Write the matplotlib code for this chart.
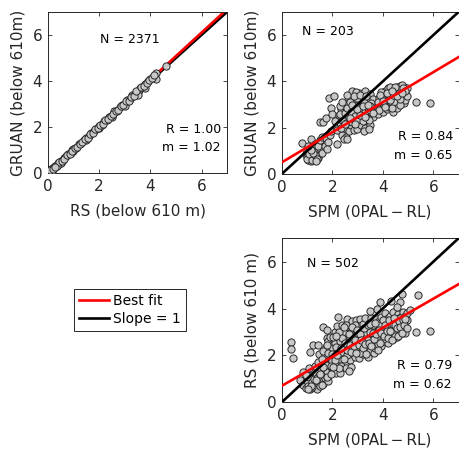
"""
Scatter comparison of boundary layer heights: GRUAN / RS / SPM
"""

import numpy as np
import matplotlib
matplotlib.use('Agg')
import matplotlib.pyplot as plt
from matplotlib.lines import Line2D

plt.rcParams['font.family'] = ['DejaVu Sans']

# ---- data ----
# panel 1: RS vs GRUAN
rs_x = [0.03, 0.05, 0.08, 0.1, 0.12, 0.15, 0.18, 0.2, 0.25, 0.3, 0.35, 0.4, 0.45, 0.5,
        0.6, 0.65, 0.7, 0.8, 0.9, 0.95, 1.0, 1.1, 1.2, 1.3, 1.4, 1.5, 1.6, 1.7, 1.8,
        1.9, 2.0, 2.1, 2.2, 2.3, 2.4, 2.5, 2.6, 2.7, 2.8, 2.9, 3.0, 3.1, 3.2, 3.3,
        3.4, 3.5, 3.55, 3.6, 3.7, 3.8, 3.9, 4.0, 4.1, 4.2, 4.6,
        1.0, 2.0, 3.0, 3.5, 2.5, 1.5, 0.5, 3.8, 4.2, 0.02, 0.06, 0.12]
gruan_y = [0.05, 0.1, 0.06, 0.15, 0.1, 0.18, 0.2, 0.25, 0.22, 0.33, 0.38, 0.45, 0.42, 0.52,
           0.58, 0.68, 0.74, 0.82, 0.88, 0.99, 1.04, 1.1, 1.25, 1.3, 1.44, 1.52, 1.6, 1.76, 1.82,
           1.93, 2.05, 2.1, 2.26, 2.32, 2.45, 2.5, 2.68, 2.72, 2.86, 2.95, 3.02, 3.18, 3.22, 3.4,
           3.44, 3.52, 3.62, 3.7, 3.75, 3.85, 4.0, 4.08, 4.15, 4.35, 4.65,
           0.95, 1.95, 2.9, 3.4, 2.42, 1.45, 0.45, 3.7, 4.1, 0.12, 0.02, 0.18]
rs_x_more = [0.15, 0.25, 0.35, 0.45, 0.55, 0.65, 0.75, 0.85, 0.95, 1.05, 1.15, 1.25, 1.35,
             1.45, 1.55, 1.65, 1.75, 1.85, 1.95, 2.05, 2.15, 2.25, 2.35, 2.45, 2.55, 2.65,
             2.75, 2.85, 2.95, 3.05, 3.15, 3.25, 3.35, 3.45, 3.65, 3.75, 3.85, 3.95, 4.05,
             4.15, 0.08, 0.2, 0.3]
gruan_y_more = [0.12, 0.28, 0.33, 0.48, 0.55, 0.63, 0.79, 0.84, 0.97, 1.08, 1.13, 1.29, 1.36,
                1.5, 1.55, 1.7, 1.74, 1.9, 1.95, 2.1, 2.15, 2.3, 2.35, 2.5, 2.55, 2.72,
                2.75, 2.92, 2.95, 3.12, 3.15, 3.32, 3.35, 3.55, 3.72, 3.8, 3.92, 4.02, 4.12,
                4.25, 0.15, 0.18, 0.26]

# panel 2: SPM vs GRUAN
spm_g = [0.82, 0.95, 1.0, 1.05, 1.1, 1.12, 1.15, 1.2, 1.22, 1.25, 1.3, 1.32, 1.35, 1.38, 1.4,
         1.45, 1.48, 1.5, 1.55, 1.6, 1.15, 1.3, 1.42, 1.51, 1.0, 1.6, 1.7, 1.75, 1.84, 1.9,
         1.95, 2.17, 1.8,
         1.51, 1.65, 1.76, 1.88, 2.07, 1.97, 2.0, 2.1, 2.15,
         2.2, 2.3, 2.35, 2.4, 2.45, 2.5, 2.5, 2.55, 2.6, 2.6, 2.65, 2.7, 2.7, 2.75, 2.8, 2.8,
         2.85, 2.9, 2.9, 2.95, 3.0, 3.0, 3.05, 3.1, 3.1, 3.15, 3.2, 3.2, 3.25, 3.3, 3.3, 3.35,
         3.4, 3.4, 3.45, 3.5, 3.5, 3.55, 3.6, 3.6, 2.45, 2.55, 2.3, 2.25, 2.65, 2.95, 3.05,
         3.15, 3.25, 2.75, 2.4, 2.85, 3.35, 3.45, 3.0, 2.6,
         3.7, 3.75, 3.8, 3.85, 3.9, 3.95, 4.0, 4.0, 4.05, 4.1, 4.15, 4.2, 4.2, 4.25, 4.3, 4.35,
         4.4, 4.4, 4.45, 4.5, 4.5, 4.55, 4.6, 4.6, 4.65, 4.7, 4.7, 4.75, 4.8, 4.8, 4.85, 4.85,
         4.9, 4.9, 4.75, 4.65, 4.3, 3.95, 4.1, 4.45, 4.55, 4.25, 3.85, 4.05, 4.35, 4.7, 4.85,
         4.95, 4.95, 5.33, 5.86]
gruan_s = [1.35, 0.85, 0.75, 0.6, 0.95, 0.7, 0.55, 0.8, 1.0, 0.65, 0.9, 0.6, 1.1, 0.75, 0.95,
           0.7, 1.25, 0.85, 1.05, 0.9, 1.5, 1.3, 1.22, 1.49, 1.0, 1.6, 1.2, 1.55, 1.39, 1.7,
           1.85, 1.29, 1.1,
           2.26, 2.25, 2.4, 3.29, 3.38, 2.87, 2.6, 2.3, 2.05,
           1.9, 2.2, 2.8, 1.7, 2.5, 2.95, 2.0, 1.6, 2.3, 3.0, 1.85, 2.6, 3.4, 2.1, 3.6, 2.45,
           1.9, 2.8, 3.2, 2.2, 1.95, 2.6, 3.5, 2.35, 3.0, 2.1, 2.75, 3.4, 2.5, 2.0, 3.6, 2.9,
           2.3, 3.2, 2.65, 2.1, 3.45, 2.9, 2.45, 3.25, 1.5, 2.7, 2.95, 2.55, 3.25, 3.55, 2.45,
           3.25, 1.85, 2.95, 2.35, 2.65, 2.45, 1.95, 3.3, 1.5,
           2.7, 3.0, 2.6, 3.3, 2.85, 3.1, 2.7, 3.45, 3.0, 3.6, 2.8, 3.25, 3.7, 2.9, 3.4, 3.05,
           3.65, 2.7, 3.3, 3.5, 2.95, 3.75, 3.2, 3.55, 3.0, 3.4, 3.8, 3.15, 3.6, 3.3, 3.75, 3.05,
           3.5, 3.2, 3.85, 3.65, 3.75, 3.55, 3.35, 3.1, 2.85, 3.5, 2.75, 3.2, 2.85, 3.0, 3.45,
           3.7, 3.35, 3.12, 3.07]
spm_g_more = [2.3, 2.35, 2.4, 2.45, 2.5, 2.55, 2.6, 2.65, 2.7, 2.75, 2.8, 2.85, 2.9, 2.95,
              3.0, 3.05, 3.1, 3.15, 3.2, 3.25, 3.3, 3.35, 3.4, 3.45, 3.5, 3.55, 3.6, 2.5,
              2.7, 2.9, 3.1, 3.3, 3.5, 2.6, 2.8, 3.0, 3.2, 3.4,
              1.0, 1.1, 1.2, 1.3, 1.4, 1.25, 1.15, 1.35, 1.05,
              3.8, 3.9, 4.0, 4.1, 4.2, 4.3, 4.4, 4.5, 4.6, 4.7, 4.8, 4.9, 4.15, 4.35, 4.55, 4.75]
gruan_s_more = [2.6, 2.0, 3.1, 2.3, 2.65, 2.2, 2.85, 2.45, 3.1, 2.7, 2.25, 3.35, 2.5, 2.95,
                2.35, 2.75, 3.4, 2.55, 2.3, 3.1, 2.7, 3.35, 2.85, 2.35, 2.75, 3.05, 2.65, 2.15,
                2.4, 2.15, 2.55, 2.45, 2.95, 3.4, 3.0, 2.8, 2.95, 3.0,
                0.65, 0.85, 0.6, 0.8, 0.65, 0.9, 1.05, 0.55, 1.2,
                3.1, 3.4, 3.15, 2.9, 3.45, 3.2, 3.4, 3.75, 3.45, 3.25, 3.7, 3.6, 3.5, 3.6, 3.35, 3.5]

# panel 3: SPM vs RS
spm_r = [0.83, 0.72, 0.85, 0.95, 1.0, 1.05, 1.1, 1.12, 1.18, 1.2, 1.25, 1.28, 1.32, 1.35, 1.4,
         1.42, 1.48, 1.5, 1.55, 1.58, 1.62, 1.65, 1.7, 1.72, 1.78, 1.8, 1.85, 1.9, 1.97, 2.0,
         1.1, 1.3, 0.95, 1.45,
         0.37, 0.37, 0.46, 1.25, 1.45, 1.12, 1.49, 1.78, 1.62, 1.8, 2.24, 2.14, 2.3, 1.78,
         1.7, 1.75, 1.85, 1.9, 1.95, 2.0, 2.0, 2.05, 2.1, 2.1, 2.15, 2.2, 2.2, 2.25, 2.3, 2.3,
         2.35, 2.4, 2.4, 2.45, 2.5, 2.5, 2.5, 2.55, 2.55, 2.6, 2.6, 2.65, 2.65, 2.7, 2.7, 2.75,
         2.75, 2.8, 2.8, 2.85, 2.85, 2.9, 2.9, 2.95, 2.95, 3.0, 3.0, 3.05, 3.05, 3.1, 3.1, 3.15,
         3.15, 3.2, 3.2, 3.25, 3.25, 3.3, 3.3, 3.35, 3.35, 3.4, 3.4, 3.45, 3.45, 3.5, 3.5, 3.55,
         3.55, 3.6, 3.6, 3.65, 3.65, 3.7, 3.7, 3.75, 3.75, 3.8, 3.8, 3.85, 3.85, 3.9, 3.9, 3.95,
         3.95, 4.0, 4.0, 4.05, 4.05, 4.1, 4.1, 4.15, 4.15, 4.2, 4.2, 4.25, 4.25, 4.3, 4.3, 4.35,
         4.35, 4.4, 4.4, 4.45, 4.45, 4.5, 4.5, 4.55, 4.55, 4.6, 4.6, 4.65, 4.65, 4.7, 4.7, 4.75,
         4.75, 4.8, 4.8, 4.85, 4.85, 4.9, 4.9, 4.95, 4.95,
         2.0, 2.1, 2.25, 2.35, 2.45, 2.6, 2.7, 2.8, 2.9, 3.0, 3.1, 3.2, 3.3, 3.4, 3.5, 3.6,
         3.7, 3.8, 3.9, 4.0, 4.1, 4.2, 4.3, 4.4, 4.5, 4.6, 4.7, 4.8, 2.35, 2.55, 2.75, 2.65,
         3.9, 4.34, 4.7, 4.76, 5.39, 5.07, 3.78, 3.5, 4.55,
         5.33, 5.86, 4.9]
rs_r = [1.31, 0.95, 0.75, 0.6, 0.9, 0.7, 1.1, 0.55, 0.85, 1.4, 0.65, 1.0, 0.75, 1.25, 0.55,
        0.9, 1.15, 0.7, 1.4, 0.95, 1.25, 0.8, 1.55, 1.05, 1.1, 1.35, 0.9, 1.65, 1.52, 1.25,
        1.45, 1.55, 1.15, 1.7,
        2.59, 2.28, 1.88, 2.45, 2.45, 2.16, 2.06, 2.73, 3.23, 3.1, 3.63, 1.24, 1.24, 1.1,
        2.0, 2.35, 2.6, 1.9, 2.2, 2.75, 1.75, 2.45, 3.0, 2.05, 1.6, 2.6, 3.25, 2.2, 1.85, 2.9,
        2.45, 3.3, 2.05, 2.7, 1.65, 3.1, 2.35, 2.85, 1.95, 3.55, 2.55, 2.15, 3.2, 2.75, 1.8, 3.0,
        2.4, 3.45, 2.1, 2.65, 3.15, 2.35, 1.95, 2.9, 3.5, 2.55, 2.2, 3.25, 1.9, 2.75, 3.55, 2.4,
        3.0, 2.05, 3.35, 2.6, 2.9, 2.25, 3.6, 2.75, 3.15, 2.4, 1.95, 3.4, 2.95, 2.6, 2.2, 3.2,
        3.6, 2.8, 2.45, 3.35, 2.1, 3.0, 2.65, 3.55, 2.35, 3.2, 2.85, 2.55, 3.45, 3.05, 2.7, 3.65,
        2.4, 3.25, 2.9, 3.5, 2.6, 3.1, 3.8, 2.8, 3.35, 3.6, 2.55, 3.0, 3.25, 3.7, 2.85, 3.45,
        3.1, 2.7, 3.85, 3.3, 2.95, 3.6, 3.15, 2.8, 3.45, 3.75, 3.0, 3.3, 3.6, 2.9, 3.45, 3.7,
        3.15, 3.35, 3.85, 3.55, 3.05, 3.7, 3.25, 3.5, 3.8,
        2.3, 2.55, 2.75, 2.15, 3.0, 2.0, 2.95, 2.55, 3.3, 2.95, 2.1, 2.85, 3.0, 2.65, 3.0, 3.3,
        2.3, 2.5, 3.3, 2.7, 2.95, 3.15, 3.35, 3.05, 2.85, 3.25, 3.6, 3.1, 1.55, 1.45, 1.5, 1.35,
        4.28, 4.32, 4.27, 4.62, 4.58, 3.94, 3.98, 3.9, 4.05,
        3.02, 3.06, 2.97]
spm_r_more = [1.6, 1.65, 1.75, 1.8, 1.85, 1.9, 1.95, 2.0, 2.05, 2.1, 2.15, 2.2, 2.25, 2.3, 2.35,
              2.4, 2.45, 2.5, 2.55, 2.6, 2.65, 2.7, 2.75, 2.8, 2.85, 2.9, 2.95, 3.0, 3.05, 3.1,
              3.15, 3.2, 3.25, 3.3, 3.35, 3.4, 3.45, 3.5, 3.55, 3.6, 3.65, 3.7, 3.75, 3.8, 3.85,
              3.9, 3.95, 4.0, 4.05, 4.1, 4.15, 4.2, 4.25, 4.3, 4.35, 4.4, 4.45, 4.5, 4.55, 4.6,
              4.65, 4.7, 4.75, 4.8, 4.85, 4.9, 4.95, 2.15, 2.45, 2.25, 2.05, 1.95, 1.65, 1.4,
              1.2, 1.35, 1.5, 1.15, 1.05, 1.6]
rs_r_more = [1.85, 2.2, 1.6, 2.45, 2.1, 2.8, 1.55, 2.05, 2.8, 1.8, 2.35, 2.0, 3.0, 2.6, 2.3,
             2.75, 1.85, 2.55, 3.3, 2.25, 2.9, 2.45, 2.15, 3.2, 2.4, 2.65, 2.1, 3.1, 2.45, 2.9,
             2.65, 2.3, 3.15, 2.5, 2.05, 3.3, 2.55, 3.35, 2.4, 2.95, 2.7, 3.4, 2.9, 2.25, 3.1,
             2.55, 2.95, 3.5, 2.85, 3.3, 3.05, 2.75, 3.5, 3.05, 2.65, 3.35, 3.6, 3.3, 3.15, 2.85,
             3.45, 3.2, 2.95, 3.5, 3.3, 3.55, 3.15, 2.85, 3.2, 1.45, 1.5, 1.2, 1.5, 1.05,
             0.65, 0.95, 1.2, 0.7, 0.55, 0.75]

# fit results (slope m, intercept b, correlation R, count N)
fit_m = [1.02, 0.65, 0.62]
fit_b = [-0.02, 0.50, 0.70]
fit_r = [1.00, 0.84, 0.79]
counts = [2371, 203, 502]

x_labels = ['RS (below 610 m)', 'SPM (0PAL\u2009\u2212\u2009RL)', 'SPM (0PAL\u2009\u2212\u2009RL)']
y_labels = ['GRUAN (below 610m)', 'GRUAN (below 610m)', 'RS (below 610 m)']


def draw_panel(ax, x, y, m, b, r, n, xlab, ylab, n_pos, r_pos, lines_on_top):
    """单个散点图面板"""
    z_pts, z_lines = (2, 3) if lines_on_top else (3, 2)
    ax.scatter(x, y, s=27, facecolor='#c8c8c8', edgecolor='#2a2a2a',
               linewidth=0.7, zorder=z_pts)
    ax.axline((0, 0), slope=1, color='black', lw=1.9, zorder=z_lines)
    ax.axline((0, b), slope=m, color='red', lw=1.9, zorder=z_lines)

    ax.set_xlim(0, 7)
    ax.set_ylim(0, 7)
    ax.set_xticks([0, 2, 4, 6])
    ax.set_yticks([0, 2, 4, 6])
    ax.tick_params(direction='in', length=3, width=0.6, top=True, right=True,
                   labelsize=11, colors='#262626', pad=4)
    for sp in ax.spines.values():
        sp.set_linewidth(0.7)
        sp.set_color('#262626')

    ax.set_xlabel(xlab, fontsize=11, color='#262626', labelpad=7)
    ax.set_ylabel(ylab, fontsize=11, color='#262626', labelpad=5)

    ax.text(n_pos[0], n_pos[1], f'N = {n}', fontsize=9, ha='left', va='center')
    ax.text(r_pos[0], r_pos[1], f'R = {r:.2f}\nm = {m:.2f}', fontsize=9,
            ha='right', va='center', linespacing=1.55)


fig = plt.figure(figsize=(4.59, 4.51), dpi=100)

ax1 = fig.add_axes([0.104, 0.6157, 0.3913, 0.3584])
ax2 = fig.add_axes([0.6137, 0.6142, 0.3853, 0.3592])
ax3 = fig.add_axes([0.6137, 0.1080, 0.3853, 0.3636])

draw_panel(ax1, rs_x + rs_x_more, gruan_y + gruan_y_more, fit_m[0], fit_b[0], fit_r[0],
           counts[0], x_labels[0], y_labels[0], (2.04, 5.78), (6.75, 1.5), False)
draw_panel(ax2, spm_g + spm_g_more, gruan_s + gruan_s_more, fit_m[1], fit_b[1], fit_r[1],
           counts[1], x_labels[1], y_labels[1], (0.8, 6.15), (6.78, 1.2), True)
draw_panel(ax3, spm_r + spm_r_more, rs_r + rs_r_more, fit_m[2], fit_b[2], fit_r[2],
           counts[2], x_labels[2], y_labels[2], (1.0, 5.94), (6.74, 1.16), True)

# 图例
handles = [Line2D([], [], color='red', lw=1.9, label='Best fit'),
           Line2D([], [], color='black', lw=1.9, label='Slope = 1')]
leg = fig.legend(handles=handles, loc='upper left', bbox_to_anchor=(0.161, 0.359),
                 fontsize=10, fancybox=False, edgecolor='#262626', framealpha=1,
                 handlelength=2.2, handletextpad=0.3, borderpad=0.35, labelspacing=0.3,
                 borderaxespad=0)
leg.get_frame().set_linewidth(0.7)

plt.savefig('out.png', dpi=100)
